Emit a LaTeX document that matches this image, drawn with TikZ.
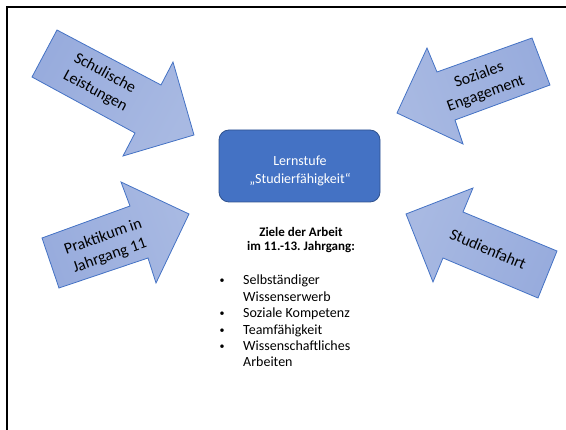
\documentclass[tikz,border=0pt]{standalone}
\usepackage{fontspec}
\setmainfont{Carlito}
\frenchspacing
\definecolor{accent}{HTML}{4472C4}
\definecolor{accentdark}{HTML}{2F528F}
\definecolor{arrowdark}{HTML}{98ACDD}
\definecolor{arrowlight}{HTML}{A8B9E2}
\tikzset{
  arrowshape/.style={draw=accent, line width=0.8pt, line join=miter, left color=arrowdark, right color=arrowlight},
  arrowtext/.style={font=\fontsize{16}{20}\selectfont, align=center, text=black, inner sep=0pt},
  lsbox/.style={draw=accentdark, line width=0.8pt, fill=accent, rounded corners=10pt, minimum width=161pt, minimum height=72pt},
  boxtext/.style={font=\fontsize{14}{18}\selectfont, align=center, text=white, inner sep=0pt},
  headtext/.style={font=\bfseries\fontsize{13}{13.8}\selectfont, align=center, inner sep=0pt},
  listtext/.style={font=\fontsize{14}{16.4}\selectfont, align=left, inner sep=0pt},
  frameline/.style={line width=2.2pt, black},
}
\newcommand{\bul}{\makebox[24.5pt][l]{\hspace*{1pt}\raisebox{1pt}{\fontsize{10}{10}\selectfont •}}}
\newcommand{\ind}{\hspace*{24.5pt}}
\begin{document}
\begin{tikzpicture}[x=1pt,y=1pt]
  \useasboundingbox (0,-430) rectangle (566,0);
  % frame
  \draw[frameline] (566,-7) -- (7,-7) -- (7,-430);
  % arrows
  \path[arrowshape, shading angle=61.4]
    (57,-30) -- (161,-85) -- (173,-62) -- (194,-135) -- (123,-156) -- (135,-133) -- (32,-77) -- cycle;
  \path[arrowshape, shading angle=289.7]
    (532,-38) -- (437,-72) -- (427,-48) -- (397,-113) -- (463,-144) -- (455,-120) -- (550,-85) -- cycle;
  \path[arrowshape, shading angle=109.5]
    (42,-238) -- (130,-206) -- (121,-182) -- (189,-214) -- (156,-283) -- (148,-258) -- (59,-288) -- cycle;
  \path[arrowshape, shading angle=246.8]
    (557,-251) -- (463,-212) -- (473,-188) -- (406,-214) -- (433,-282) -- (443,-258) -- (538,-298) -- cycle;
  % arrow labels
  \node[arrowtext, rotate=-28.6] (schul) at (100,-82.5) {Schulische\\Leistungen};
  \node[arrowtext, rotate=19.7] (sozial) at (482.5,-84.5) {Soziales\\Engagement};
  \node[arrowtext, rotate=19.5] (prakt) at (106.5,-246.5) {Praktikum in\\Jahrgang 11};
  \node[arrowtext, rotate=-23.2] (studien) at (488,-249) {Studienfahrt};
  % central box
  \node[lsbox] (ls) at (299.5,-166) {};
  \node[boxtext] (lstext) at (300,-170.5) {Lernstufe\\„Studierfähigkeit“};
  % heading
  \node[headtext, anchor=north] (ziele) at (301,-227.5) {Ziele der Arbeit\\im 11.-13. Jahrgang:};
  % list
  \node[listtext, anchor=north west] (liste) at (218.5,-275) {%
    \bul Selbständiger\\
    \ind Wissenserwerb\\
    \bul Soziale Kompetenz\\
    \bul Teamfähigkeit\\
    \bul Wissenschaftliches\\
    \ind Arbeiten};
\end{tikzpicture}
\end{document}
